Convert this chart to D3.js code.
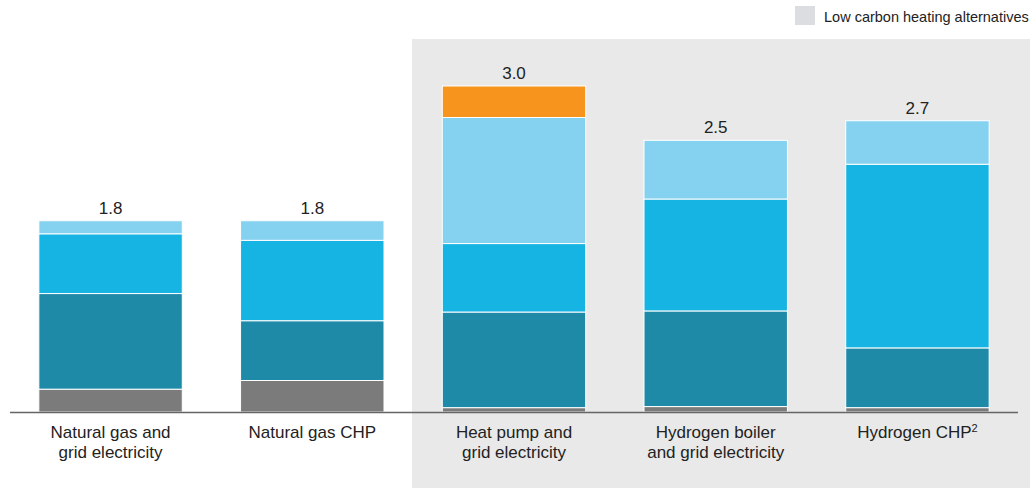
<!DOCTYPE html>
<html><head><meta charset="utf-8">
<script src="https://cdn.jsdelivr.net/npm/d3@7"></script>
<style>body{margin:0;background:#fff}svg{display:block;font-family:"Liberation Sans",Arial,sans-serif}</style>
</head><body><svg id="c" width="1030" height="488"></svg>
<script>
const categories = [["Natural gas and","grid electricity"],["Natural gas CHP"],["Heat pump and","grid electricity"],["Hydrogen boiler","and grid electricity"],["Hydrogen CHP","2"]];
const seriesNames = ["s1","s2","s3","s4","s5"];
const s1 = [0.21,0.29,0.04,0.05,0.04];
const s2 = [0.88,0.55,0.88,0.88,0.55];
const s3 = [0.55,0.74,0.63,1.03,1.69];
const s4 = [0.12,0.18,1.16,0.54,0.40];
const s5 = [0,0,0.29,0,0];
const totalLabels = ["1.8","1.8","3.0","2.5","2.7"];
const legendLabel = "Low carbon heating alternatives";
const colors = ["#7a7b7a","#1e8aa8","#15b4e2","#84d1f0","#f7941d"];

const svg = d3.select("#c");
const x = d3.scaleBand().domain(d3.range(categories.length)).range([10,1018]).paddingInner(0.289).paddingOuter(0.143);
const y = d3.scaleLinear().domain([0,3]).range([412,86]);

// shaded region
svg.append("rect").attr("x",412).attr("y",39).attr("width",618).attr("height",449).attr("fill","#e9e9e9");

// legend
svg.append("rect").attr("x",795).attr("y",6).attr("width",20).attr("height",19).attr("fill","#dcdde0");
svg.append("text").attr("x",824).attr("y",22).attr("font-size",14.5).attr("fill","#222").text(legendLabel);

const rows = categories.map((c,i)=>{const o={i};seriesNames.forEach((k,j)=>o[k]=[s1,s2,s3,s4,s5][j][i]);return o;});
const stack = d3.stack().keys(seriesNames)(rows);

svg.append("g").selectAll("g").data(stack).join("g").attr("fill",(d,i)=>colors[i])
  .selectAll("rect").data(d=>d.filter(p=>p[1]-p[0]>0)).join("rect")
  .attr("x",d=>x(d.data.i)).attr("width",x.bandwidth())
  .attr("y",d=>y(d[1])).attr("height",d=>y(d[0])-y(d[1]))
  .attr("stroke","#fff").attr("stroke-width",1);

// totals
svg.append("g").selectAll("text").data(rows).join("text")
  .attr("x",d=>x(d.i)+x.bandwidth()/2)
  .attr("y",d=>y(d3.sum(seriesNames,k=>d[k]))-7)
  .attr("text-anchor","middle").attr("font-size",17).attr("fill","#222")
  .text(d=>totalLabels[d.i]);

// axis line
svg.append("line").attr("x1",10).attr("x2",1018).attr("y1",412.5).attr("y2",412.5).attr("stroke","#666").attr("stroke-width",1.5);

// category labels
categories.forEach((c,i)=>{
  const cx = x(i)+x.bandwidth()/2;
  const t = svg.append("text").attr("x",cx).attr("y",438).attr("text-anchor","middle").attr("font-size",17).attr("fill","#222");
  if(i===4){
    t.append("tspan").text(c[0]);
    t.append("tspan").attr("font-size",11).attr("dy",-6).text(c[1]);
  } else {
    c.forEach((line,j)=>t.append("tspan").attr("x",cx).attr("dy",j===0?0:19.5).text(line));
  }
});
</script></body></html>
